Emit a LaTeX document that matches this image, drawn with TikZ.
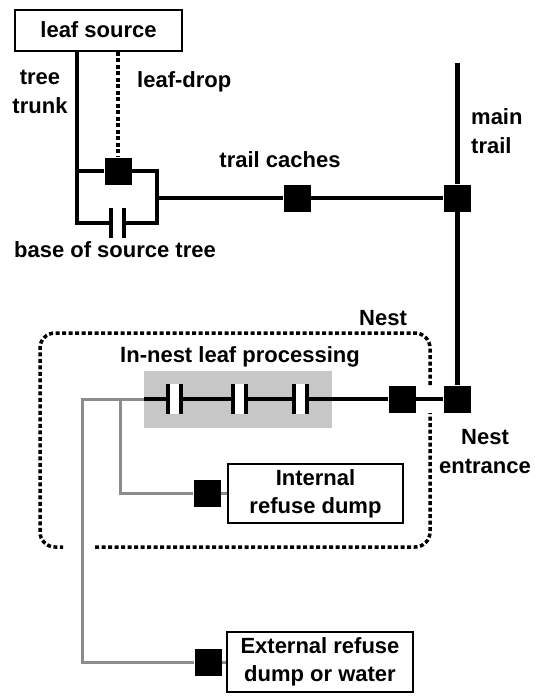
\documentclass[tikz,border=0pt]{standalone}
\usepackage{fontspec}
\setmainfont{Liberation Sans}
\usetikzlibrary{positioning, calc}
\tikzstyle{tag} = [font=\fontsize{22}{29}\selectfont\bfseries, align=center, inner sep=0pt]
\tikzstyle{site} = [rectangle, draw=black, line width=2pt, fill=white, text centered, align=center, inner sep=0pt, font=\fontsize{22}{28}\selectfont\bfseries]
\tikzstyle{cache} = [rectangle, fill=black, minimum size=27pt, inner sep=0pt]
\tikzstyle{gap} = [rectangle, fill=white, minimum width=13pt, minimum height=30pt, inner sep=0pt]
\tikzstyle{trail} = [line width=4pt]
\tikzstyle{refuse} = [line width=3pt, draw=black!45]
\tikzstyle{dots} = [line width=3.5pt, dash pattern=on 4pt off 2.5pt]
\tikzstyle{plate} = [line width=4pt]
\newcommand{\capgap}[2]{%
  \node (#1) [gap] at (#2) {};
  \draw [plate] (#1.north west) -- (#1.south west);
  \draw [plate] (#1.north east) -- (#1.south east);
}

\begin{document}
\begin{tikzpicture}[x=1pt, y=-1pt]
\useasboundingbox (0,0) rectangle (535,696);

% Albero sorgente
\node (leaf_source) [site, minimum width=167pt, minimum height=41pt] at (98.5,30) {leaf source};
\coordinate (trunk_top) at (77,50.5);
\coordinate (loop_ne) at (157,171);
\node (drop_cache) [cache] at (118,171) {};
\capgap{base_gap}{117.5,223}

% Sentiero e nido
\node (processing) [fill=black!22, minimum width=188pt, minimum height=57pt] at (238,399.5) {};
\node (trail_cache) [cache] at (297,198) {};
\node (trail_junction) [cache] at (457,198) {};
\coordinate (trail_top) at (457,63);
\node (nest_entrance) [cache] at (457,399) {};
\node (nest_cache) [cache] at (402,399) {};
\capgap{proc_a}{174.5,399}
\capgap{proc_b}{239.5,399}
\capgap{proc_c}{300.5,399}

% Depositi di rifiuti
\node (internal_dump) [site, minimum width=175pt, minimum height=59pt] at (315.5,493.5) {Internal\\refuse dump};
\node (internal_cache) [cache] at (207,493) {};
\node (external_dump) [site, minimum width=186pt, minimum height=60pt] at (320,662) {External refuse\\dump or water};
\node (external_cache) [cache] at (208,662) {};
\coordinate (refuse_split) at (120,399);
\coordinate (refuse_out) at (82,399);

% Connessioni tra i nodi
\draw [trail] (trunk_top) |- (base_gap.west);
\draw [trail] (trunk_top |- drop_cache) -- (drop_cache);
\draw [trail] (drop_cache) -| (loop_ne |- base_gap) -- (base_gap.east);
\draw [dots] (leaf_source.south -| drop_cache) -- (drop_cache);
\draw [trail] (loop_ne |- trail_cache) -- (trail_cache);
\draw [trail] (trail_cache) -- (trail_junction);
\draw [trail, line width=5pt] (trail_top) -- (trail_junction);
\draw [trail, line width=5pt] (trail_junction) -- (nest_entrance);
\draw [trail] (nest_entrance) -- (nest_cache);
\draw [trail] (nest_cache) -- (proc_c.east);
\draw [trail] (proc_c.west) -- (proc_b.east);
\draw [trail] (proc_b.west) -- (proc_a.east);
\draw [trail] (proc_a.west) -- (processing.west |- proc_a);
\draw [refuse] (processing.west |- proc_a) -- (refuse_out) |- (external_cache);
\draw [refuse] (refuse_split) |- (internal_cache);
\draw [refuse] (internal_cache) -- (internal_cache -| internal_dump.west);
\draw [refuse] (external_cache) -- (external_cache -| external_dump.west);

% Confine del nido
\draw [dots, rounded corners=15pt] (430,385) -- (430,333) -- (40,333) -- (40,547) -- (63,547);
\draw [dots, rounded corners=15pt] (95,547) -- (430,547) -- (430,413);

% Etichette
\node (trunk_label) [tag] at (40,92) {tree\\trunk};
\node (drop_label) [tag, anchor=base west] at (137,87) {leaf-drop};
\node (base_label) [tag, anchor=base] at (115,257) {base of source tree};
\node (cache_label) [tag, anchor=base] at (280,167) {trail caches};
\node (main_label) [tag, align=left, anchor=west] at (471,131) {main\\trail};
\node (nest_label) [tag, anchor=base] at (383,325) {Nest};
\node (processing_label) [tag, anchor=base] at (240,362) {In-nest leaf processing};
\node (entrance_label) [tag] at (485,452) {Nest\\entrance};

\end{tikzpicture}
\end{document}
